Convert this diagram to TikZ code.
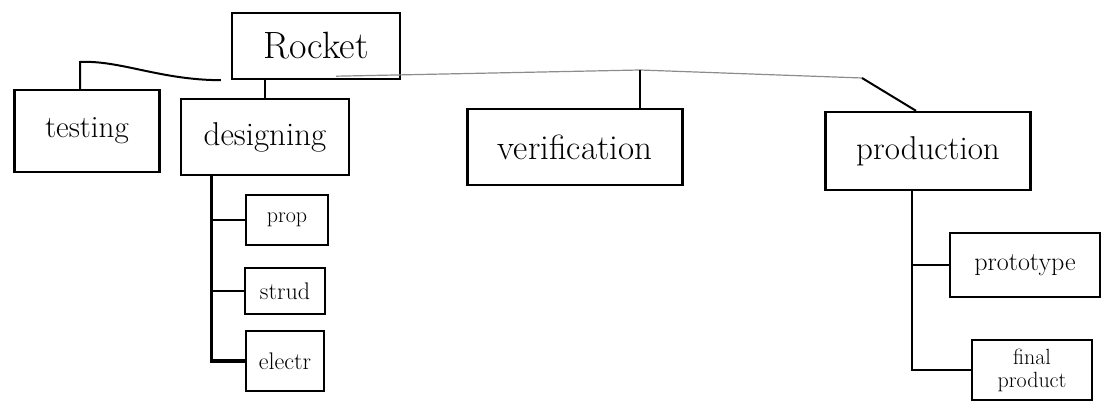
\documentclass[tikz,border=0pt]{standalone}
\begin{document}
\begin{tikzpicture}[x=1pt,y=-1pt,
  box/.style={draw=black,line width=2.4pt,inner sep=1pt,align=center},
  link/.style={draw=black,line width=2pt},
  trunk/.style={draw=black,line width=3.2pt},
  faint/.style={draw=black!45,line width=1.2pt}]
\useasboundingbox (0,0) rectangle (1102,403);
\node[box,minimum width=168,minimum height=66,font=\fontsize{38}{40}\selectfont] (rocket) at (316,46) {Rocket};
\node[box,minimum width=145,minimum height=82,font=\fontsize{31}{33}\selectfont] (testing) at (87,131) {testing};
\node[box,minimum width=168,minimum height=76,font=\fontsize{33}{35}\selectfont] (designing) at (265,137) {designing};
\node[box,minimum width=215,minimum height=76,font=\fontsize{35}{37}\selectfont] (verification) at (575,147) {verification};
\node[box,minimum width=205,minimum height=78,font=\fontsize{33}{35}\selectfont] (production) at (928,151) {production};
\node[box,minimum width=82,minimum height=50,font=\fontsize{22}{24}\selectfont] (prop) at (287,220) {prop};
\node[box,minimum width=80,minimum height=46,font=\fontsize{24}{26}\selectfont] (strud) at (285,291) {strud};
\node[box,minimum width=78,minimum height=60,font=\fontsize{24}{26}\selectfont] (electr) at (285,361) {electr};
\node[box,minimum width=150,minimum height=64,font=\fontsize{26}{28}\selectfont] (proto) at (1025,265) {prototype};
\node[box,minimum width=120,minimum height=60,font=\fontsize{22}{23}\selectfont] (final) at (1032,370) {final\\product};
% Rocket to testing
\coordinate (tk) at (80,62);
\draw[link] ([xshift=-10pt]rocket.south west) .. controls (160,80) and (120,60) .. (tk) -- (tk |- testing.north);
% Rocket to designing
\draw[link] (rocket.south -| designing.north) -- (designing.north);
% Rocket to verification and production
\coordinate (bv) at (640,70);
\coordinate (bp) at (862,78);
\draw[faint] ([xshift=-65pt,yshift=4pt]rocket.south east) -- (bv) -- (bp);
\draw[link] (bv) -- (bv |- verification.north);
\draw[link] (bp) -- ([xshift=-12pt]production.north);
% designing children
\coordinate (dv) at ([xshift=32pt]designing.south west);
\draw[trunk] (dv) |- (electr.west);
\draw[link] (dv |- prop.west) -- (prop.west);
\draw[link] (dv |- strud.west) -- (strud.west);
% production children
\coordinate (pv) at ([xshift=88pt]production.south west);
\draw[link] (pv) |- (final.west);
\draw[link] (pv |- proto.west) -- (proto.west);
\end{tikzpicture}
\end{document}
